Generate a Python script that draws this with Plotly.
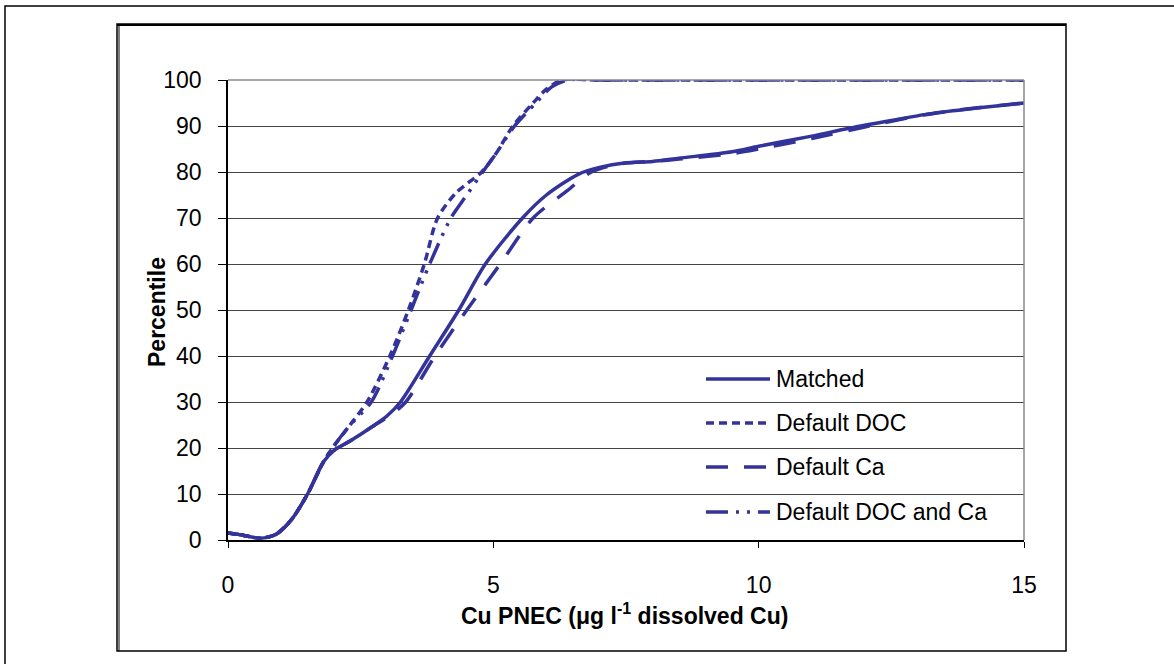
import plotly.graph_objects as go

# Matched
matched_x = [0, 0.3, 0.6, 0.9, 1.2, 1.5, 1.8, 2.0, 2.3, 2.7, 3.0, 3.25, 3.8, 4.35, 4.85, 5.55, 6.0,
             6.6, 7.0, 7.5, 8.0, 8.5, 9.5, 10.0, 11.0, 11.7, 12.5, 13.3, 14.2, 15.0]
matched_y = [1.5, 1.0, 0.4, 1.2, 4.5, 10, 17, 19.5, 21.5, 24.5, 27, 30, 40, 50, 60, 70, 75,
             79.5, 81, 82, 82.3, 83, 84.4, 85.6, 87.8, 89.5, 91.2, 92.8, 94, 95]

# Default DOC
doc_x = [0, 0.3, 0.6, 0.9, 1.2, 1.5, 1.8, 2.0, 2.3, 2.62, 3.05, 3.4, 3.7, 3.95, 4.3, 4.78,
         5.05, 5.37, 5.75, 6.0, 6.3, 7.0, 9.0, 11.0, 13.0, 15.0]
doc_y = [1.5, 1.0, 0.4, 1.2, 4.5, 10, 17, 20.5, 25, 30, 40, 50, 60, 70, 75.5, 80,
         84, 90, 95, 98, 100, 100, 100, 100, 100, 100]

# Default Ca
ca_x = [0, 0.3, 0.6, 0.9, 1.2, 1.5, 1.8, 2.0, 2.3, 2.7, 3.1, 3.35, 3.9, 4.5, 5.13, 5.75, 6.4,
        6.85, 7.4, 8.0, 8.5, 9.5, 10.0, 11.0, 12.0, 13.0, 14.0, 15.0]
ca_y = [1.5, 1.0, 0.4, 1.2, 4.5, 10, 17, 19.5, 21.5, 24.5, 27.5, 30, 40, 50, 60, 70, 76,
        80, 81.8, 82.3, 82.8, 84, 85, 87.3, 89.8, 92.2, 93.8, 95]

# Default DOC and Ca
docca_x = [0, 0.3, 0.6, 0.9, 1.2, 1.5, 1.8, 2.0, 2.3, 2.7, 3.1, 3.45, 3.8, 4.2, 4.5, 4.8,
           5.05, 5.4, 5.8, 6.1, 6.4, 7.0, 9.0, 11.0, 13.0, 15.0]
docca_y = [1.5, 1.0, 0.4, 1.2, 4.5, 10, 17, 20.5, 25, 30, 40, 50, 60, 70, 75, 80,
           84, 90, 95, 98.5, 100, 100, 100, 100, 100, 100]

x_ticks = [0, 5, 10, 15]
y_ticks = [0, 10, 20, 30, 40, 50, 60, 70, 80, 90, 100]

BLUE = "#333399"
FONT = "Liberation Sans, Arial, sans-serif"
FS = 23

series = [
    ("Default Ca", ca_x, ca_y, "22px,16px"),
    ("Default DOC and Ca", docca_x, docca_y, "22px,8px,3px,8px,3px,8px"),
    ("Default DOC", doc_x, doc_y, "8px,5px"),
    ("Matched", matched_x, matched_y, "solid"),
]

fig = go.Figure()
for name, xs, ys, dash in series:
    fig.add_trace(go.Scatter(
        x=xs, y=ys, mode="lines", name=name, line_shape="spline",
        line=dict(color=BLUE, width=3.5, dash=dash, smoothing=0.8),
        showlegend=False,
    ))

# plot area pixel geometry -> paper coords
X0, X1, Y0, Y1 = 228, 1024, 540, 80
def px(v):
    return (v - X0) / (X1 - X0)
def py(v):
    return (Y0 - v) / (Y0 - Y1)

shapes = []
# outer frame
shapes.append(dict(type="rect", xref="paper", yref="paper", x0=px(5), x1=px(1185),
                   y0=py(6), y1=py(680), line=dict(color="black", width=1.5)))
# inner frame
shapes.append(dict(type="rect", xref="paper", yref="paper", x0=px(117), x1=px(1066),
                   y0=py(24), y1=py(651), line=dict(color="black", width=1.5)))
shapes.append(dict(type="line", xref="paper", yref="paper", x0=px(119), x1=px(119),
                   y0=py(25), y1=py(651), line=dict(color="black", width=1)))
shapes.append(dict(type="line", xref="paper", yref="paper", x0=px(117), x1=px(1066),
                   y0=py(25), y1=py(25), line=dict(color="black", width=2)))
# plot area top/right border
shapes.append(dict(type="line", xref="paper", yref="paper", x0=0, x1=1, y0=1, y1=1,
                   line=dict(color="#8a8a8a", width=1.5)))
shapes.append(dict(type="line", xref="paper", yref="paper", x0=1, x1=1, y0=0, y1=1,
                   line=dict(color="#8a8a8a", width=1.5)))

# manual legend
legend_rows = [("Matched", "solid", 379), ("Default DOC", "8px,5px", 423),
               ("Default Ca", "22px,16px", 467),
               ("Default DOC and Ca", "22px,8px,3px,8px,3px,8px", 512)]
annotations = []
for label, dash, yy in legend_rows:
    shapes.append(dict(type="line", xref="paper", yref="paper", x0=px(706), x1=px(770),
                       y0=py(yy), y1=py(yy), line=dict(color=BLUE, width=3.5, dash=dash)))
    annotations.append(dict(text=label, xref="paper", yref="paper", x=px(774), y=py(yy),
                            xanchor="left", yanchor="middle", showarrow=False,
                            font=dict(size=FS, color="black", family=FONT)))

annotations.append(dict(text="<b>Cu PNEC (μg l<sup>-1</sup> dissolved Cu)</b>", xref="paper",
                        yref="paper", x=px(624), y=py(614), xanchor="center", yanchor="middle",
                        showarrow=False, font=dict(size=FS, color="black", family=FONT)))
annotations.append(dict(text="<b>Percentile</b>", xref="paper", yref="paper", x=px(157),
                        y=py(312), xanchor="center", yanchor="middle", textangle=-90,
                        showarrow=False, font=dict(size=FS, color="black", family=FONT)))

fig.update_layout(
    width=1174, height=664,
    margin=dict(l=X0, r=1174 - X1, t=Y1, b=664 - Y0),
    paper_bgcolor="white", plot_bgcolor="white",
    font=dict(family=FONT, size=FS, color="black"),
    shapes=shapes, annotations=annotations,
    xaxis=dict(range=[0, 15], tickvals=x_ticks, showgrid=False, zeroline=False,
               showline=True, linecolor="black", linewidth=1.5, ticks="outside",
               ticklen=6, tickcolor="black", ticklabelstandoff=18,
               tickfont=dict(size=FS, family=FONT, color="black")),
    yaxis=dict(range=[0, 100], tickvals=y_ticks, showgrid=True, gridcolor="#444444",
               gridwidth=1.2, zeroline=False, showline=True, linecolor="black", linewidth=1.5,
               ticks="outside", ticklen=8, tickcolor="black", ticklabelstandoff=12,
               tickfont=dict(size=FS, family=FONT, color="black")),
)

fig.write_html("out.html", post_script="document.body.style.margin='0';",
               config={"displayModeBar": False})
